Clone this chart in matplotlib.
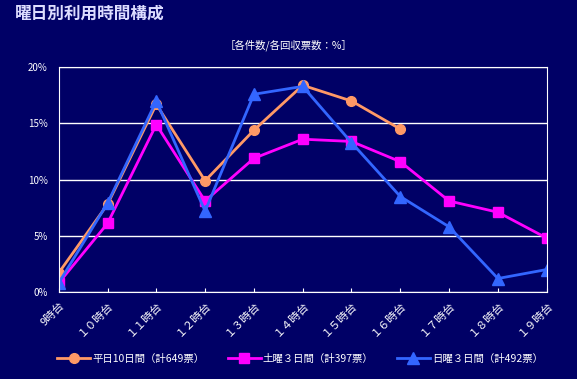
import matplotlib
matplotlib.use("Agg")
import matplotlib.pyplot as plt

plt.rcParams['font.family'] = ['Noto Sans CJK JP', 'DejaVu Sans']

# hours of day
hours = ['9時台', '１０時台', '１１時台', '１２時台', '１３時台', '１４時台',
         '１５時台', '１６時台', '１７時台', '１８時台', '１９時台']

# share of responses per hour (%)
weekday = [1.7, 7.8, 16.7, 9.9, 14.4, 18.4, 17.0, 14.5]
saturday = [0.8, 6.1, 14.9, 8.1, 11.9, 13.6, 13.4, 11.6, 8.1, 7.1, 4.8]
sunday = [0.8, 7.9, 17.0, 7.2, 17.6, 18.3, 13.3, 8.5, 5.8, 1.2, 2.0]

labels = ['平日10日間（計649票）', '土曜３日間（計397票）', '日曜３日間（計492票）']

bg = '#000066'
fig = plt.figure(figsize=(5.77, 3.79), dpi=100, facecolor=bg)
ax = fig.add_axes([58.7/577, 1-292/379, 488/577, (292-67.3)/379], facecolor=bg)

x = list(range(len(hours)))
ax.plot(x[:len(weekday)], weekday, color='#FF9966', marker='o', markersize=7, lw=2, label=labels[0])
ax.plot(x, saturday, color='#FF00FF', marker='s', markersize=7, lw=2, label=labels[1])
ax.plot(x, sunday, color='#3366FF', marker='^', markersize=8, lw=2, label=labels[2])

ax.set_xlim(0, 10)
ax.set_ylim(0, 20)
ax.set_yticks([0, 5, 10, 15, 20])
ax.set_yticklabels(['0%', '5%', '10%', '15%', '20%'])
ax.set_xticks(x)
ax.set_xticklabels(hours, rotation=45, ha='right', rotation_mode='anchor')
ax.tick_params(colors='white', labelsize=7, length=3)
ax.tick_params(axis='y', length=0, pad=8)
ax.tick_params(axis='x', direction='in', pad=6)
for s in ax.spines.values():
    s.set_color('white')
ax.grid(axis='y', color='white', lw=1)
ax.set_axisbelow(True)
for lbl in ax.get_xticklabels():
    lbl.set_fontsize(8)

fig.text(15/577, 1-14/379, '曜日別利用時間構成', color='#DDDDFF', fontsize=12,
         fontweight='bold', style='italic', va='center')
fig.text(288/577, 1-45/379, '［各件数/各回収票数：%］', color='white', fontsize=7.5,
         ha='center', va='center')

fig.legend(loc='center', bbox_to_anchor=(0.52, 1-359/379), ncol=3, frameon=False,
           labelcolor='white', fontsize=7.5, handlelength=3.2, columnspacing=2.2,
           handletextpad=0.2)

fig.savefig('out.png', dpi=100, facecolor=bg)
